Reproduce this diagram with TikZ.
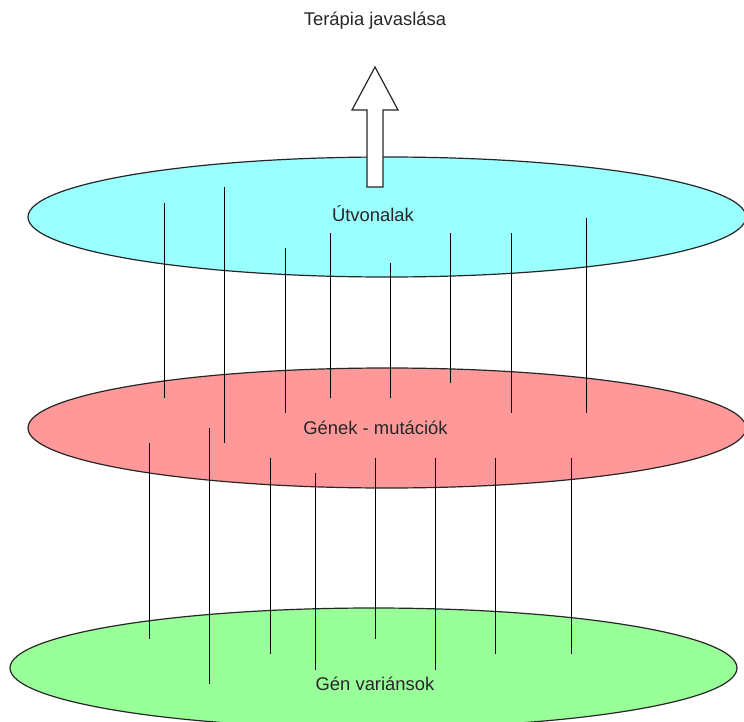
\documentclass[tikz,border=0pt]{standalone}
\usepackage{fontspec}
\setmainfont{Liberation Sans}
\begin{document}
\begin{tikzpicture}[x=1pt,y=-1pt,
  layer/.style={draw=black!85,line width=1.2pt},
  link/.style={draw=black,line width=1pt},
  label/.style={anchor=base,inner sep=0pt,text=black!85,font=\fontsize{18.4}{21}\selectfont},
  bigarrow/.style={draw=black!85,fill=white,line width=1.2pt,line join=miter}]
\useasboundingbox (0,0) rectangle (744,722);

% the three layers
\path[layer,fill={rgb,255:red,153;green,255;blue,255}] (387,217) ellipse [x radius=359,y radius=60];
\path[layer,fill={rgb,255:red,255;green,153;blue,153}] (387,428) ellipse [x radius=359,y radius=60];
\path[layer,fill={rgb,255:red,153;green,255;blue,153}] (373.5,668) ellipse [x radius=363.5,y radius=60];

% links between pathways and genes
\foreach \x/\top/\bot [count=\i] in {164/203/398,224/187/443,285/248/413,330/233/398,
                                    390/263/398,450/233/383,511/233/413,586/218/413}{
  \coordinate (u\i a) at (\x,\top);
  \coordinate (u\i b) at (\x,\bot);
  \draw[link] (u\i a) -- (u\i b);
}
% links between genes and variants
\foreach \x/\top/\bot [count=\i] in {149/443/639,209/428/684,270/458/654,315/473/670,
                                    375/458/639,435/458/670,495/458/654,571/458/654}{
  \coordinate (l\i a) at (\x,\top);
  \coordinate (l\i b) at (\x,\bot);
  \draw[link] (l\i a) -- (l\i b);
}

% upward arrow towards the therapy suggestion
\draw[bigarrow] (367,187) -- (367,110) -- (352,110) -- (375,67) -- (398,110)
  -- (383,110) -- (383,187) -- cycle;

% labels
\node[label] (therapy) at (375,26) {Terápia javaslása};
\node[label] (paths) at (373,222) {Útvonalak};
\node[label] (genes) at (375.5,434) {Gének - mutációk};
\node[label] (variants) at (375,690) {Gén variánsok};
\end{tikzpicture}
\end{document}
